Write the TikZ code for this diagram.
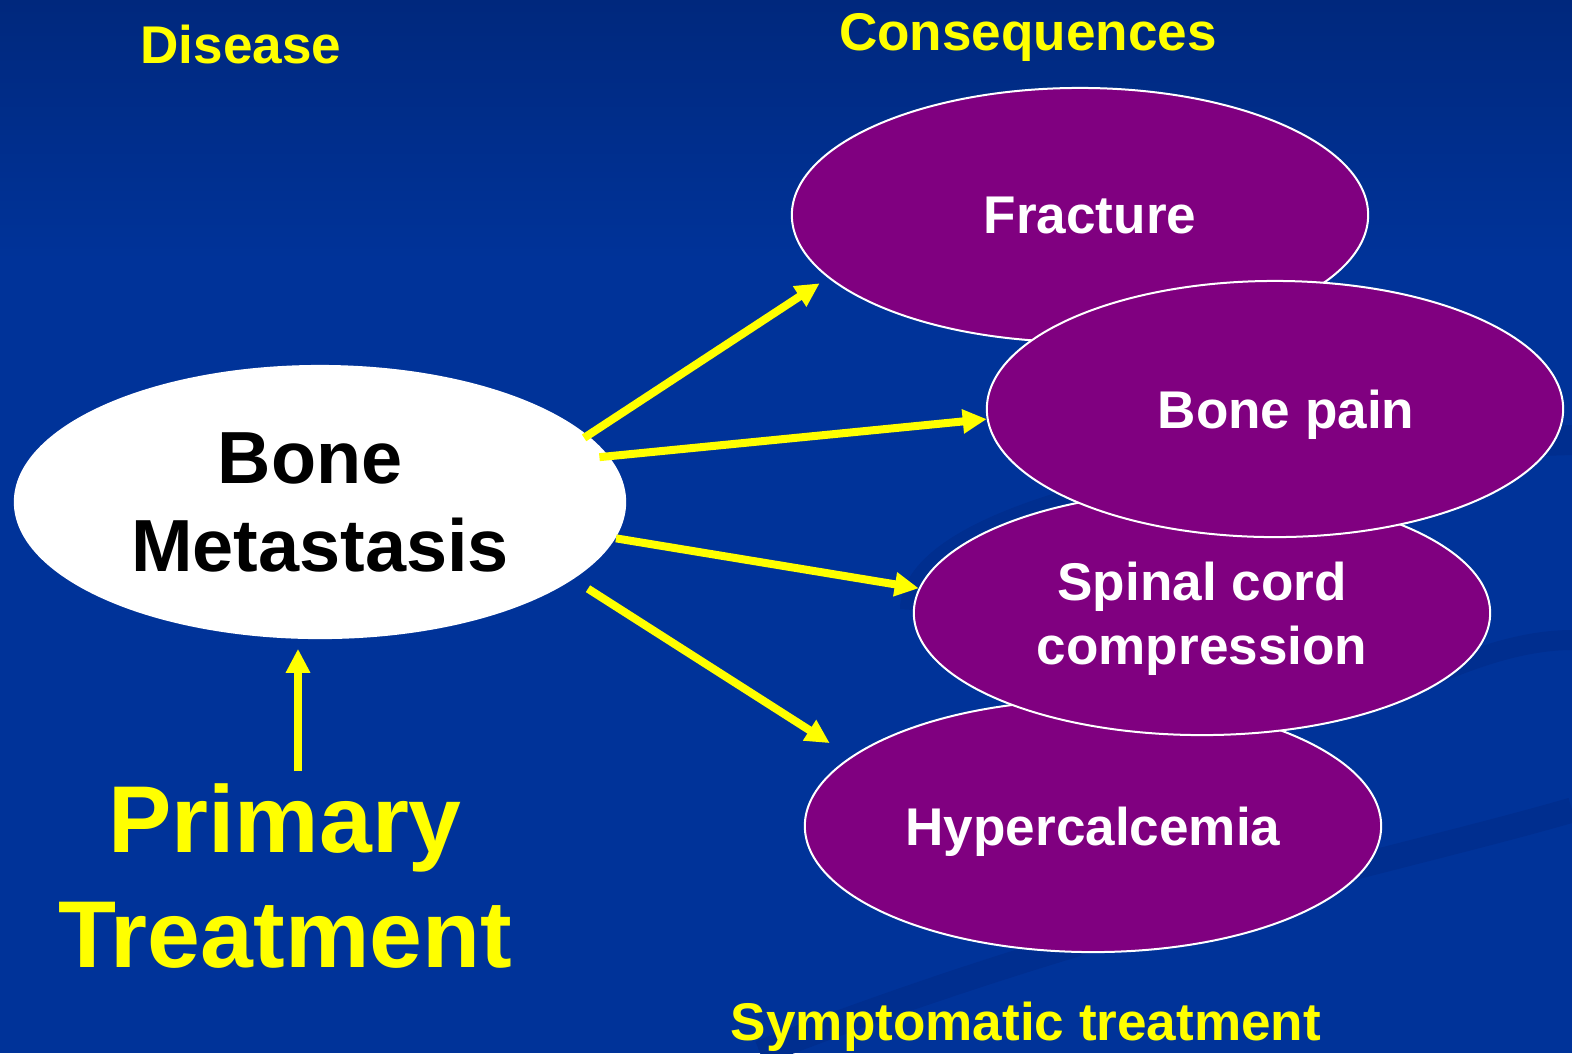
\documentclass[tikz,border=0pt]{standalone}
\usepackage{fontspec}
\setmainfont{Liberation Sans}
\usetikzlibrary{arrows.meta,positioning,shapes.geometric}

\definecolor{slideblue}{RGB}{0,51,153}
\definecolor{slidetop}{RGB}{0,40,125}
\definecolor{swoosh}{RGB}{0,46,143}
\definecolor{conspurple}{RGB}{128,0,128}
\definecolor{signyellow}{RGB}{255,255,0}

\tikzset{
  cons/.style={ellipse, fill=conspurple, draw=white, line width=0.02cm,
    minimum width=5.76cm, inner sep=0pt, text=white, align=center,
    text depth=0pt, font=\bfseries\fontsize{15.1}{18.2}\selectfont},
  head/.style={text=signyellow, anchor=base,
    font=\bfseries\fontsize{15.1}{18}\selectfont},
  feed/.style={draw=signyellow, line width=0.08cm,
    -{Triangle[length=0.24cm,width=0.23cm]}},
}

\begin{document}
\begin{tikzpicture}[x=0.01cm, y=-0.01cm]
    % background
    \useasboundingbox (0,0) rectangle (1572,1053);
    \fill[slideblue] (0,0) rectangle (1572,1053);
    \shade[top color=slidetop, bottom color=slideblue] (0,0) rectangle (1572,260);
    \draw[swoosh, line width=0.3cm] (915,610) .. controls (915,520) and (1200,450) .. (1572,440);
    \draw[swoosh, line width=0.2cm] (1380,700) .. controls (1460,660) and (1520,640) .. (1572,640);
    \draw[swoosh, line width=0.25cm] (760,1053) .. controls (1100,920) and (1400,860) .. (1572,810);

    % disease side
    \node[head] (disease) at (241,63) {Disease};
    \node[ellipse, fill=white, minimum width=6.12cm, minimum height=2.74cm,
      inner sep=0pt, align=center,
      font=\bfseries\fontsize{21}{25}\selectfont] (bm) at (320,502) {Bone\hspace*{0.2cm}\\Metastasis};
    \node[text=signyellow, align=center,
      font=\bfseries\fontsize{27}{32.7}\selectfont] (primary) at (285,876) {Primary\\Treatment};

    % consequences side
    \node[head] (conseq) at (1028,50) {Consequences};
    \node[cons, minimum height=2.54cm] (frac) at (1080,215) {\hspace{0.2cm}Fracture};
    \node[cons, minimum height=2.52cm] (hyper) at (1093,826) {Hypercalcemia};
    \node[cons, minimum height=2.44cm] (spinal) at (1202,613) {Spinal cord\\compression};
    \node[cons, minimum height=2.56cm] (pain) at (1275,409) {\hspace{0.22cm}Bone pain};
    \node[head] (sympt) at (1026,1040) {Symptomatic treatment};

    % arrows
    \draw[feed, shorten <=-0.05cm, shorten >=0.1cm] (bm.14) -- (frac.194);
    \draw[feed, shorten <=-0.1cm] (bm.9) -- (pain.182);
    \draw[feed] (bm.-7) -- (spinal.175);
    \draw[feed, shorten <=0.17cm, shorten >=0.25cm] (bm.-17) -- (hyper.164);
    \coordinate (upfoot) at ([xshift=0.13cm]primary.north);
    \draw[feed, shorten >=0.09cm] (upfoot) -- (upfoot |- bm.south);
\end{tikzpicture}
\end{document}
